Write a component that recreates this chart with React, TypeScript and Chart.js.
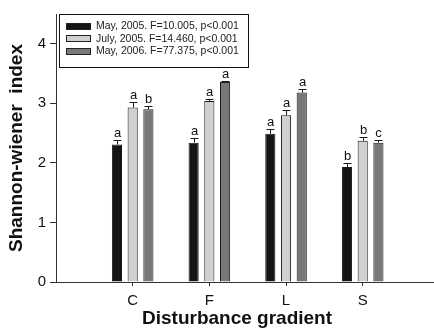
import React, { useEffect, useRef } from 'react';
import { Chart, registerables } from 'chart.js';

Chart.register(...registerables);

const categories = ['C', 'F', 'L', 'S'];
const seriesNames = [
  'May, 2005. F=10.005, p<0.001',
  'July, 2005. F=14.460, p<0.001',
  'May, 2006. F=77.375, p<0.001',
];
const may2005 = [2.31, 2.34, 2.49, 1.93];
const july2005 = [2.93, 3.04, 2.8, 2.37];
const may2006 = [2.9, 3.36, 3.18, 2.34];
const may2005Err = [0.08, 0.07, 0.08, 0.07];
const july2005Err = [0.1, 0.03, 0.09, 0.06];
const may2006Err = [0.06, 0.02, 0.06, 0.04];
const may2005Letters = ['a', 'a', 'a', 'b'];
const july2005Letters = ['a', 'a', 'a', 'b'];
const may2006Letters = ['b', 'a', 'a', 'c'];
const yTicks = [0, 1, 2, 3, 4];
const yTitle = 'Shannon-wiener  index';
const xTitle = 'Disturbance gradient';

const FONT = '"Liberation Sans", Arial, Helvetica, sans-serif';
const colors = ['#151515', '#d0d0d0', '#787878'];
const errs = [may2005Err, july2005Err, may2006Err];
const letters = [may2005Letters, july2005Letters, may2006Letters];

const toPoints = (arr: number[]) => arr.map((v, i) => ({ x: i, y: v }));

const overlayPlugin = {
  id: 'overlay',
  afterDatasetsDraw(chart: any) {
    const ctx = chart.ctx;
    const yScale = chart.scales.y;
    const area = chart.chartArea;
    ctx.save();
    chart.data.datasets.forEach((ds: any, i: number) => {
      const meta = chart.getDatasetMeta(i);
      meta.data.forEach((el: any, j: number) => {
        const v = ds.data[j].y;
        const e = errs[i][j];
        const yTop = Math.round(yScale.getPixelForValue(v + e)) + 0.5;
        const x = Math.round(el.x) + 0.5;
        ctx.strokeStyle = '#1a1a1a';
        ctx.lineWidth = 1;
        ctx.beginPath();
        ctx.moveTo(x, el.y);
        ctx.lineTo(x, yTop);
        ctx.moveTo(x - 4, yTop);
        ctx.lineTo(x + 4, yTop);
        ctx.stroke();
        ctx.fillStyle = '#111';
        ctx.font = `13px ${FONT}`;
        ctx.textAlign = 'center';
        ctx.textBaseline = 'alphabetic';
        ctx.fillText(letters[i][j], x, yTop - 4);
      });
    });
    // legend
    const lx = area.left + 3;
    const ly = area.top;
    ctx.fillStyle = '#fff';
    ctx.fillRect(lx, ly, 189, 53);
    ctx.strokeStyle = '#111';
    ctx.lineWidth = 1;
    ctx.strokeRect(lx + 0.5, ly + 0.5, 189, 53);
    seriesNames.forEach((name, i) => {
      const cy = ly + 12 + i * 12.3;
      ctx.fillStyle = colors[i];
      ctx.fillRect(lx + 7, Math.round(cy - 3), 25, 7);
      ctx.strokeStyle = '#222';
      ctx.strokeRect(lx + 7.5, Math.round(cy - 3) + 0.5, 24, 6);
      ctx.fillStyle = '#222';
      ctx.font = `10.5px ${FONT}`;
      ctx.textAlign = 'left';
      ctx.textBaseline = 'middle';
      ctx.fillText(name, lx + 37, cy + 0.5);
    });
    // x title
    ctx.fillStyle = '#111';
    ctx.font = `bold 19px ${FONT}`;
    ctx.textAlign = 'center';
    ctx.textBaseline = 'middle';
    ctx.fillText(xTitle, 237, 319);
    ctx.restore();
  },
};

export default function App() {
  const ref = useRef<HTMLCanvasElement>(null);
  useEffect(() => {
    document.body.style.margin = '0';
    const chart = new Chart(ref.current as HTMLCanvasElement, {
      type: 'bar',
      data: {
        datasets: [may2005, july2005, may2006].map((d, i) => ({
          label: seriesNames[i],
          data: toPoints(d) as any,
          backgroundColor: colors[i],
          borderColor: '#1a1a1a',
          borderWidth: 1,
          categoryPercentage: 0.615,
          barPercentage: 0.645,
        })),
      },
      options: {
        responsive: false,
        animation: false,
        devicePixelRatio: 1,
        layout: { padding: { top: 14, right: 0, left: 0, bottom: 0 } },
        plugins: { legend: { display: false }, tooltip: { enabled: false } },
        scales: {
          x: {
            type: 'linear',
            min: -1,
            max: 3.93,
            offset: false,
            border: { color: '#333', width: 1 },
            grid: { drawOnChartArea: false, offset: false, tickLength: 4, tickColor: '#333' },
            ticks: {
              color: '#111',
              font: { size: 15, family: FONT },
              padding: 6,
              maxRotation: 0,
              autoSkip: false,
              callback: (v: any) => categories[v as number] ?? '',
            },
            afterBuildTicks: (s: any) => { s.ticks = categories.map((_, i) => ({ value: i })); },
            afterFit: (s: any) => { s.height = 49; },
          },
          y: {
            min: 0,
            max: 4.5,
            border: { color: '#333', width: 1 },
            grid: { drawOnChartArea: false, tickLength: 6, tickColor: '#333' },
            ticks: { color: '#111', font: { size: 15, family: FONT }, padding: 4 },
            afterBuildTicks: (s: any) => { s.ticks = yTicks.map((v) => ({ value: v })); },
            afterFit: (s: any) => { s.width = 56; },
            title: {
              display: true,
              text: yTitle,
              color: '#111',
              font: { size: 19, weight: 'bold', family: FONT },
              padding: { top: 5, bottom: 0 },
            },
          },
        },
      } as any,
      plugins: [overlayPlugin],
    });
    return () => chart.destroy();
  }, []);
  return (
    <div style={{ width: 434, height: 331 }}>
      <canvas ref={ref} width={434} height={331} />
    </div>
  );
}
